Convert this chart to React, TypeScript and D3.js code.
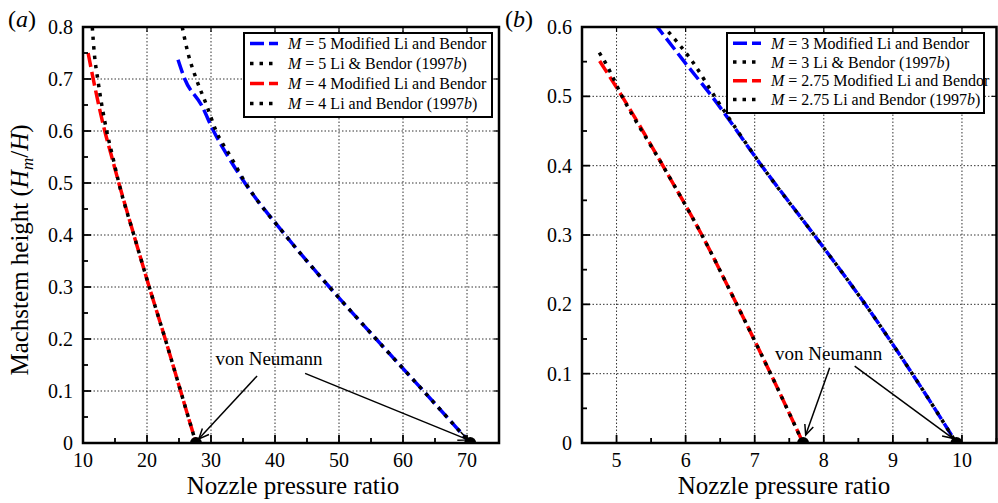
import React from 'react';
import * as d3 from 'd3';

// ---------- Data ----------
// Panel (a)
const aBlueM5Modified: [number, number][] = [[24.85,0.737],[25.9,0.7],[28.5,0.65],[30.4,0.6],[32.7,0.55],[35.3,0.5],[41.6,0.4],[48.5,0.3],[55.8,0.2],[63.2,0.1],[70.5,0]];
const aBlackM5LiBendor: [number, number][] = [[25.5,0.8],[26.4,0.75],[27.7,0.7],[29.3,0.65],[30.8,0.6],[33.1,0.55],[35.4,0.5],[41.6,0.4],[48.5,0.3],[55.8,0.2],[63.2,0.1],[70.5,0]];
const aRedM4Modified: [number, number][] = [[10.8,0.75],[11.6,0.7],[13.4,0.6],[14.5,0.55],[15.6,0.5],[17.95,0.4],[20.35,0.3],[22.85,0.2],[25.25,0.1],[27.65,0]];
const aBlackM4LiBendor: [number, number][] = [[11.45,0.8],[11.76,0.75],[12.3,0.7],[13.7,0.6],[14.65,0.55],[15.6,0.5],[17.95,0.4],[20.35,0.3],[22.85,0.2],[25.25,0.1],[27.65,0]];
const aDots: number[] = [27.65, 70.5];
const aXTicks = [10, 20, 30, 40, 50, 60, 70];
const aYTicks = [0, 0.1, 0.2, 0.3, 0.4, 0.5, 0.6, 0.7, 0.8];
const aLegend = [
  { m: '5', label: ' Modified Li and Bendor', year: '', color: '#0000ff', dotted: false },
  { m: '5', label: ' Li & Bendor (1997', year: 'b', color: '#000000', dotted: true },
  { m: '4', label: ' Modified Li and Bendor', year: '', color: '#ff0000', dotted: false },
  { m: '4', label: ' Li and Bendor (1997', year: 'b', color: '#000000', dotted: true },
];
const aArrows = [
  { from: [37.2, 0.129], to: [28.1, 0.008] },
  { from: [44.7, 0.134], to: [70.2, 0.006] },
];
const aNote = [30.7, 0.15];

// Panel (b)
const bBlueM3Modified: [number, number][] = [[5.55,0.605],[5.59,0.6],[5.98,0.55],[6.38,0.5],[7.1,0.4],[7.86,0.3],[8.6,0.2],[9.28,0.1],[9.92,0]];
const bBlackM3LiBendor: [number, number][] = [[5.75,0.593],[6.1,0.55],[6.42,0.5],[7.1,0.4],[7.86,0.3],[8.6,0.2],[9.28,0.1],[9.92,0]];
const bRedM275Modified: [number, number][] = [[4.755,0.551],[5.08,0.5],[5.67,0.4],[6.235,0.3],[6.74,0.2],[7.23,0.1],[7.7,0]];
const bBlackM275LiBendor: [number, number][] = [[4.75,0.563],[4.83,0.55],[5.08,0.5],[5.67,0.4],[6.235,0.3],[6.74,0.2],[7.23,0.1],[7.7,0]];
const bDots: number[] = [7.7, 9.92];
const bXTicks = [5, 6, 7, 8, 9, 10];
const bYTicks = [0, 0.1, 0.2, 0.3, 0.4, 0.5, 0.6];
const bLegend = [
  { m: '3', label: ' Modified Li and Bendor', year: '', color: '#0000ff', dotted: false },
  { m: '3', label: ' Li & Bendor (1997', year: 'b', color: '#000000', dotted: true },
  { m: '2.75', label: ' Modified Li and Bendor', year: '', color: '#ff0000', dotted: false },
  { m: '2.75', label: ' Li and Bendor (1997', year: 'b', color: '#000000', dotted: true },
];
const bArrows = [
  { from: [8.085, 0.1086], to: [7.738, 0.0115] },
  { from: [8.447, 0.111], to: [9.868, 0.0068] },
];
const bNote = [7.295, 0.12];

const FONT = '"Liberation Serif", "Times New Roman", serif';
const DASH = '14,5';
const DOT = '3.5,6';

type PanelProps = {
  id: string;
  left: number; right: number; top: number; bottom: number;
  xDomain: [number, number]; yDomain: [number, number];
  xTicks: number[]; yTicks: number[];
  xMinorStep: number; yMinorStep: number;
  series: { data: [number, number][]; color: string; dotted: boolean }[];
  dots: number[];
  legend: typeof aLegend;
  legendBox: { x: number; y: number; w: number; h: number; row0: number; rowH: number };
  arrows: { from: number[]; to: number[] }[];
  note: number[];
  letter: string; letterX: number;
  xLabelX: number;
};

function Panel(p: PanelProps) {
  const x = d3.scaleLinear().domain(p.xDomain).range([p.left, p.right]);
  const y = d3.scaleLinear().domain(p.yDomain).range([p.bottom, p.top]);
  const line = d3.line<[number, number]>().x(d => x(d[0])).y(d => y(d[1])).curve(d3.curveMonotoneX);
  const xMinor = d3.range(p.xDomain[0], p.xDomain[1] + 1e-9, p.xMinorStep);
  const yMinor = d3.range(p.yDomain[0], p.yDomain[1] + 1e-9, p.yMinorStep);
  const isMajor = (v: number, arr: number[]) => arr.some(t => Math.abs(t - v) < 1e-6);
  const fmt = (v: number) => (v === 0 ? '0' : d3.format('.1f')(v));
  const lb = p.legendBox;

  return (
    <g>
      <defs>
        <clipPath id={`clip-${p.id}`}>
          <rect x={p.left} y={p.top} width={p.right - p.left} height={p.bottom - p.top} />
        </clipPath>
      </defs>
      {/* grid */}
      {p.xTicks.filter(t => t > p.xDomain[0] && t < p.xDomain[1]).map(t => (
        <line key={'gx' + t} x1={x(t)} x2={x(t)} y1={p.top} y2={p.bottom} stroke="#333" strokeWidth={1} strokeDasharray="1.5,2" />
      ))}
      {p.yTicks.filter(t => t > p.yDomain[0] && t < p.yDomain[1]).map(t => (
        <line key={'gy' + t} x1={p.left} x2={p.right} y1={y(t)} y2={y(t)} stroke="#333" strokeWidth={1} strokeDasharray="1.5,2" />
      ))}
      {/* series */}
      <g clipPath={`url(#clip-${p.id})`}>
        {p.series.map((s, i) => (
          <path key={i} d={line(s.data) || ''} fill="none" stroke={s.color} strokeWidth={3.5}
            strokeDasharray={s.dotted ? DOT : DASH} />
        ))}
        {p.dots.map((d, i) => (
          <circle key={'d' + i} cx={x(d)} cy={y(0)} r={6} fill="#000" />
        ))}
      </g>
      {/* ticks */}
      {xMinor.map((t, i) => {
        const maj = isMajor(t, p.xTicks);
        const L = maj ? 8 : 5;
        return (
          <g key={'tx' + i}>
            <line x1={x(t)} x2={x(t)} y1={p.bottom} y2={p.bottom - L} stroke="#000" strokeWidth={1.8} />
            {maj && <line x1={x(t)} x2={x(t)} y1={p.top} y2={p.top + 5} stroke="#000" strokeWidth={1.2} />}
          </g>
        );
      })}
      {yMinor.map((t, i) => {
        const maj = isMajor(t, p.yTicks);
        const L = maj ? 8 : 5;
        return (
          <g key={'ty' + i}>
            <line x1={p.left} x2={p.left + L} y1={y(t)} y2={y(t)} stroke="#000" strokeWidth={1.8} />
            {maj && <line x1={p.right} x2={p.right - 5} y1={y(t)} y2={y(t)} stroke="#000" strokeWidth={1.2} />}
          </g>
        );
      })}
      {/* frame */}
      <rect x={p.left} y={p.top} width={p.right - p.left} height={p.bottom - p.top} fill="none" stroke="#000" strokeWidth={2.5} />
      {/* tick labels */}
      {p.xTicks.map(t => (
        <text key={'lx' + t} x={x(t)} y={p.bottom + 24} textAnchor="middle" fontSize={20} fontFamily={FONT}>{t}</text>
      ))}
      {p.yTicks.map(t => (
        <text key={'ly' + t} x={p.left - 10} y={y(t) + 7} textAnchor="end" fontSize={20} fontFamily={FONT}>{fmt(t)}</text>
      ))}
      {/* x label */}
      <text x={p.xLabelX} y={494} textAnchor="middle" fontSize={25} fontFamily={FONT}>Nozzle pressure ratio</text>
      {/* panel letter */}
      <text x={p.letterX} y={27} fontSize={24} fontFamily={FONT}>(<tspan fontStyle="italic">{p.letter}</tspan>)</text>
      {/* annotation */}
      <text x={x(p.note[0])} y={y(p.note[1])} fontSize={19} fontFamily={FONT}>von Neumann</text>
      {p.arrows.map((a, i) => {
        const x1 = x(a.from[0]), y1 = y(a.from[1]), x2 = x(a.to[0]), y2 = y(a.to[1]);
        const ang = Math.atan2(y2 - y1, x2 - x1);
        const hl = 11, ha = 0.42;
        const p1 = [x2 - hl * Math.cos(ang - ha), y2 - hl * Math.sin(ang - ha)];
        const p2 = [x2 - hl * Math.cos(ang + ha), y2 - hl * Math.sin(ang + ha)];
        return (
          <g key={'ar' + i} stroke="#000" strokeWidth={1.5} fill="none">
            <line x1={x1} y1={y1} x2={x2} y2={y2} />
            <polyline points={`${p1[0]},${p1[1]} ${x2},${y2} ${p2[0]},${p2[1]}`} />
          </g>
        );
      })}
      {/* legend */}
      <rect x={lb.x} y={lb.y} width={lb.w} height={lb.h} fill="#fff" stroke="#000" strokeWidth={2} />
      {p.legend.map((e, i) => {
        const cy = lb.row0 + i * lb.rowH;
        return (
          <g key={'lg' + i}>
            <line x1={lb.x + 6} x2={lb.x + 34} y1={cy} y2={cy} stroke={e.color} strokeWidth={3.5}
              strokeDasharray={e.dotted ? DOT : DASH} />
            <text x={lb.x + 44} y={cy + 5.5} fontSize={16} fontFamily={FONT}>
              <tspan fontStyle="italic">M</tspan>{' = ' + e.m + e.label}{e.year && <tspan fontStyle="italic">{e.year}</tspan>}{e.year && ')'}
            </text>
          </g>
        );
      })}
    </g>
  );
}

export default function App() {
  return (
    <svg width={998} height={503} style={{ position: 'absolute', left: 0, top: 0, background: '#fff' }}>
      <rect x={0} y={0} width={998} height={503} fill="#fff" />
      <Panel
        id="a" left={83} right={499} top={27} bottom={443}
        xDomain={[10, 75]} yDomain={[0, 0.8]}
        xTicks={aXTicks} yTicks={aYTicks} xMinorStep={5} yMinorStep={0.05}
        series={[
          { data: aBlueM5Modified, color: '#0000ff', dotted: false },
          { data: aRedM4Modified, color: '#ff0000', dotted: false },
          { data: aBlackM5LiBendor, color: '#000000', dotted: true },
          { data: aBlackM4LiBendor, color: '#000000', dotted: true },
        ]}
        dots={aDots}
        legend={aLegend}
        legendBox={{ x: 244, y: 33, w: 248, h: 84, row0: 43.5, rowH: 20 }}
        arrows={aArrows} note={aNote}
        letter="a" letterX={8} xLabelX={293}
      />
      <Panel
        id="b" left={582} right={996.5} top={27} bottom={443}
        xDomain={[4.5, 10.5]} yDomain={[0, 0.6]}
        xTicks={bXTicks} yTicks={bYTicks} xMinorStep={0.5} yMinorStep={0.05}
        series={[
          { data: bBlueM3Modified, color: '#0000ff', dotted: false },
          { data: bRedM275Modified, color: '#ff0000', dotted: false },
          { data: bBlackM3LiBendor, color: '#000000', dotted: true },
          { data: bBlackM275LiBendor, color: '#000000', dotted: true },
        ]}
        dots={bDots}
        legend={bLegend}
        legendBox={{ x: 727, y: 33, w: 257, h: 80, row0: 43.3, rowH: 18.7 }}
        arrows={bArrows} note={bNote}
        letter="b" letterX={505} xLabelX={784}
      />
      <text transform="translate(28,250) rotate(-90)" textAnchor="middle" fontSize={25} fontFamily={FONT}>
        Machstem height (<tspan fontStyle="italic">H</tspan><tspan fontStyle="italic" fontSize={17} dy={5}>m</tspan><tspan dy={-5}>/</tspan><tspan fontStyle="italic">H</tspan>)
      </text>
    </svg>
  );
}
